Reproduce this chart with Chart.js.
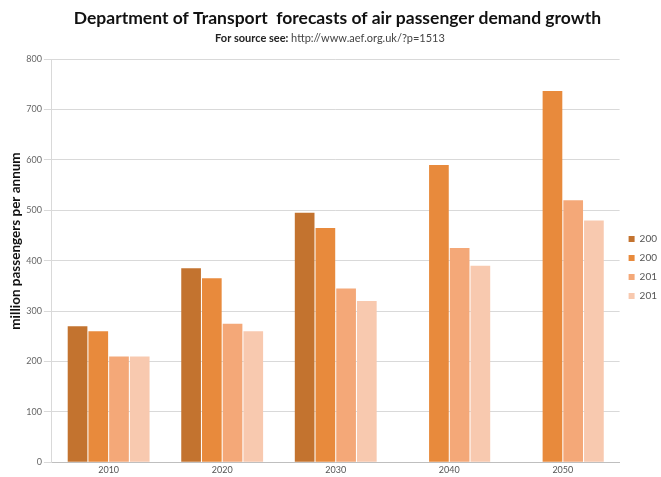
<!DOCTYPE html>
<html>
<head>
<meta charset="utf-8">
<script src="https://cdn.jsdelivr.net/npm/chart.js@4/dist/chart.umd.min.js"></script>
<style>
  html, body { margin: 0; padding: 0; background: #fff; overflow: hidden; }
  #wrap { width: 661px; height: 477px; position: relative; overflow: hidden; }
</style>
</head>
<body>
<div id="wrap"><canvas id="c" width="667" height="477"></canvas></div>
<script>
const categories = ['2010', '2020', '2030', '2040', '2050'];
const seriesNames = ['200', '200', '201', '201'];
const seriesA = [270, 385, 495, null, null];
const seriesB = [260, 365, 465, 590, 737];
const seriesC = [210, 275, 345, 425, 520];
const seriesD = [210, 260, 320, 390, 480];
const yTicks = [0, 100, 200, 300, 400, 500, 600, 700, 800];

const titleText = 'Department of Transport  forecasts of air passenger demand growth';
const subBold = 'For source see: ';
const subNormal = 'http://www.aef.org.uk/?p=1513';
const yTitle = 'million passengers per annum';
const FONT = 'Lato, "Open Sans", sans-serif';
const colors = ['#C3732F', '#E88A3C', '#F4A878', '#F8C9AF'];

const subtitlePlugin = {
  id: 'mixedSubtitle',
  afterDraw(chart) {
    const box = chart.boxes.find(b => b !== chart.titleBlock && b.options && b.options.text === subBold + subNormal);
    if (!box) return;
    const ctx = chart.ctx;
    ctx.save();
    const cy = box.top + (box.options.padding.top || 0) + 6.5;
    ctx.textBaseline = 'middle';
    ctx.font = 'bold 11px ' + FONT;
    const w1 = ctx.measureText(subBold).width;
    ctx.font = '11px ' + FONT;
    const w2 = ctx.measureText(subNormal).width;
    const cx = 330;
    let x = cx - (w1 + w2) / 2;
    ctx.fillStyle = '#222';
    ctx.font = 'bold 11px ' + FONT;
    ctx.textAlign = 'left';
    ctx.fillText(subBold, x, cy);
    ctx.fillStyle = '#444';
    ctx.font = '11px ' + FONT;
    ctx.fillText(subNormal, x + w1, cy);
    ctx.restore();
  }
};

const datasets = [seriesA, seriesB, seriesC, seriesD].map((d, i) => ({
  label: seriesNames[i],
  data: d,
  backgroundColor: colors[i],
  borderWidth: 0,
  categoryPercentage: 0.73,
  barPercentage: 0.95
}));

new Chart(document.getElementById('c'), {
  type: 'bar',
  data: { labels: categories, datasets },
  plugins: [subtitlePlugin],
  options: {
    responsive: false,
    animation: false,
    layout: { padding: { left: 8, right: 0, top: 0, bottom: 0 } },
    plugins: {
      title: {
        display: true,
        text: titleText,
        color: '#111',
        font: { family: FONT, size: 17.5, weight: 'bold' },
        padding: { top: 8, bottom: 2 }
      },
      subtitle: {
        display: true,
        text: subBold + subNormal,
        color: 'rgba(0,0,0,0)',
        font: { family: FONT, size: 11 },
        padding: { top: 1, bottom: 14 }
      },
      legend: {
        position: 'right',
        align: 'center',
        title: { display: true, text: ' ', font: { family: FONT, size: 10 }, padding: { top: 0, bottom: 46 } },
        labels: {
          boxWidth: 6,
          boxHeight: 6,
          padding: 9,
          color: '#555',
          font: { family: FONT, size: 10 }
        }
      },
      tooltip: { enabled: false }
    },
    scales: {
      x: {
        grid: { display: false, drawTicks: false },
        border: { display: true, color: '#BFBFBF', width: 1 },
        ticks: { color: '#555', font: { family: FONT, size: 9 }, padding: 2 }
      },
      y: {
        min: 0,
        max: 800,
        afterBuildTicks(scale) { scale.ticks = yTicks.map(v => ({ value: v })); },
        grid: { color: '#D9D9D9', tickLength: 8, tickColor: '#D9D9D9' },
        border: { display: true, color: '#D9D9D9' },
        ticks: { color: '#666', font: { family: FONT, size: 9 }, padding: 2 },
        title: {
          display: true,
          text: '            ' + yTitle,
          color: '#111',
          font: { family: FONT, size: 13.5, weight: 'bold' },
          padding: { top: 0, bottom: 0 }
        }
      }
    }
  }
});
</script>
</body>
</html>
